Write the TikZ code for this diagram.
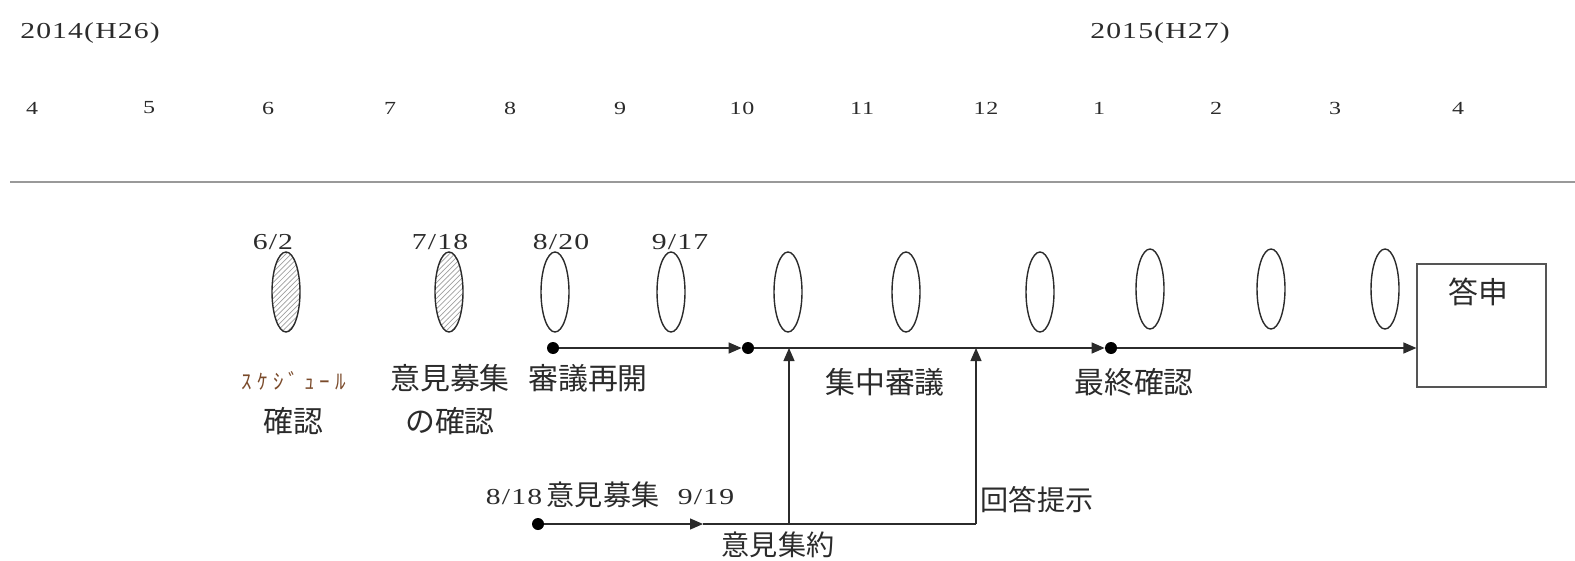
\documentclass[tikz,border=0pt]{standalone}
\usepackage{fontspec}
\setmainfont{Liberation Serif}
\newfontfamily\numf[FakeStretch=1.3,LetterSpace=5]{Liberation Serif}
\newfontfamily\jpf{Noto Sans CJK JP}
\newfontfamily\jphw[LetterSpace=24]{Noto Sans CJK JP}
\usetikzlibrary{arrows.meta,shapes.geometric,patterns}
\definecolor{ink}{HTML}{2B2B2B}
\definecolor{brownink}{HTML}{7A4A2A}
\tikzset{
  yearlbl/.style={font=\numf\fontsize{13}{15}\selectfont, text=ink, inner sep=0pt},
  monthlbl/.style={font=\numf\fontsize{10.5}{12}\selectfont, text=ink, inner sep=0pt},
  datelbl/.style={font=\numf\fontsize{13}{15}\selectfont, text=ink, inner sep=0pt},
  jplbl/.style={font=\jpf\fontsize{17}{20}\selectfont, text=ink, inner sep=0pt},
  jpsmall/.style={font=\jpf\fontsize{16}{19}\selectfont, text=ink, inner sep=0pt},
  meet/.style={draw=ink, line width=0.8pt, ellipse, minimum width=0.56cm, minimum height=1.6cm, inner sep=0pt},
  meetdone/.style={meet, pattern=north east lines, pattern color=gray!75},
  dotnode/.style={circle, fill=black, minimum size=0.24cm, inner sep=0pt},
  conn/.style={draw=ink, line width=0.7pt},
  arr/.style={conn, -{Triangle[length=0.26cm,width=0.22cm]}},
  answerbox/.style={draw=ink!80, line width=0.7pt, minimum width=2.58cm, minimum height=2.46cm, inner sep=0pt}
}
\begin{document}
\begin{tikzpicture}[x=0.02cm,y=-0.02cm]
\useasboundingbox (0,0) rectangle (1575,561);

% years
\node[yearlbl] (y2014) at (90,33) {2014(H26)};
\node[yearlbl] (y2015) at (1160,33) {2015(H27)};

% months
\node[monthlbl] (m4a) at (32,108) {4};
\node[monthlbl] (m5) at (149,108) {5};
\node[monthlbl] (m6) at (268,108) {6};
\node[monthlbl] (m7) at (390,108) {7};
\node[monthlbl] (m8) at (510,108) {8};
\node[monthlbl] (m9) at (620,108) {9};
\node[monthlbl] (m10) at (742,108) {10};
\node[monthlbl] (m11) at (862,108) {11};
\node[monthlbl] (m12) at (986,108) {12};
\node[monthlbl] (m1) at (1099,108) {1};
\node[monthlbl] (m2) at (1216,108) {2};
\node[monthlbl] (m3) at (1335,108) {3};
\node[monthlbl] (m4b) at (1458,108) {4};

% separator line
\coordinate (sepL) at (10,182);
\coordinate (sepR) at (1575,182);
\draw[gray!80, line width=1.3pt] (sepL) -- (sepR);

% meetings
\node[meetdone] (e1) at (286,292) {};
\node[meetdone] (e2) at (449,292) {};
\node[meet] (e3) at (555,292) {};
\node[meet] (e4) at (671,292) {};
\node[meet] (e5) at (788,292) {};
\node[meet] (e6) at (906,292) {};
\node[meet] (e7) at (1040,292) {};
\node[meet] (e8) at (1150,289) {};
\node[meet] (e9) at (1271,289) {};
\node[meet] (e10) at (1385,289) {};

% dates above
\node[datelbl] (t1) at (273,242) {6/2};
\node[datelbl] (t2) at (440,242) {7/18};
\node[datelbl] (t3) at (561,242) {8/20};
\node[datelbl] (t4) at (680,242) {9/17};

% answer box
\node[answerbox] (box) at (1481.5,325.5) {};
\node[jplbl] (ans) at (1478,292) {答申};

% main line dots
\node[dotnode] (d1) at (553,348) {};
\node[dotnode] (d2) at (748,348) {};
\node[dotnode] (d3) at (1111,348) {};

\draw[arr] (d1) -- (d2);
\draw[arr] (d2) -- (d3);
\draw[arr] (d3) -- (d3 -| box.west);

% bottom flow
\node[dotnode] (b1) at (538,524) {};
\coordinate (b919) at (703,524);
\coordinate (jb) at (789,524);
\coordinate (jt) at (789,348);
\coordinate (kb) at (976,524);
\coordinate (kt) at (976,348);
\draw[arr] (b1) -- (b919);
\draw[conn] (b919) -- (kb);
\draw[arr] (jb) -- (jt);
\draw[arr] (kb) -- (kt);

% labels under
\node[font=\jphw\fontsize{12}{14}\selectfont, text=brownink, inner sep=0pt] (sched) at (294,381) {ｽｹｼﾞｭｰﾙ};
\node[jplbl] (kakunin1) at (293,421) {確認};
\node[jplbl] (iken1) at (450,378) {意見募集};
\node[jplbl] (kakunin2) at (450,421) {の確認};
\node[jplbl] (saikai) at (588,378) {審議再開};
\node[jplbl] (shuchu) at (885,382) {集中審議};
\node[jplbl] (saishu) at (1134,382) {最終確認};

% bottom labels
\node[datelbl] (t818) at (514,497) {8/18};
\node[jpsmall] (iken2) at (603,495) {意見募集};
\node[datelbl] (t919) at (706,497) {9/19};
\node[jpsmall] (shuyaku) at (778,545) {意見集約};
\node[jpsmall] (kaito) at (1037,500) {回答提示};
\end{tikzpicture}
\end{document}
